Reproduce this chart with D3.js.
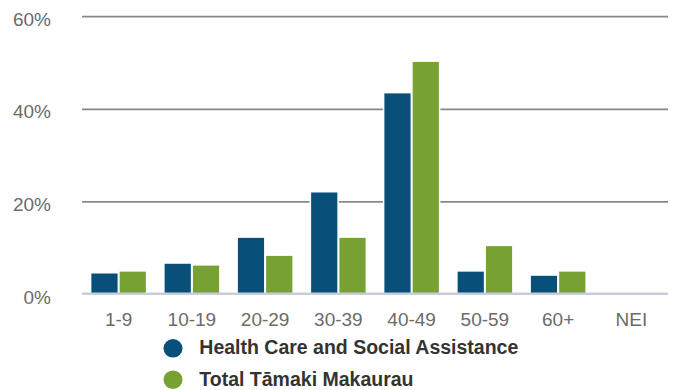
<!DOCTYPE html>
<html>
<head>
<meta charset="utf-8">
<script src="https://cdn.jsdelivr.net/npm/d3@7"></script>
<style>
  html, body { margin: 0; padding: 0; background: #fff; }
  svg { display: block; font-family: "Liberation Sans", Arial, sans-serif; }
</style>
</head>
<body>
<svg id="chart" width="676" height="390"></svg>
<script>
// Age groups on the x axis
const categories = ["1-9", "10-19", "20-29", "30-39", "40-49", "50-59", "60+", "NEI"];
// Share of businesses by age group (%)
const healthCare = [4.7, 6.8, 12.4, 22.2, 43.6, 5.1, 4.2, 0];
const totalTamaki = [5.1, 6.4, 8.5, 12.4, 50.4, 10.6, 5.1, 0];
const seriesNames = ["Health Care and Social Assistance", "Total Tāmaki Makaurau"];
const yTicks = [0, 20, 40, 60];

const colors = ["#08507a", "#78a133"];

const svg = d3.select("#chart");
const plotLeft = 82, plotRight = 668, plotTop = 16.7, plotBottom = 294.5;

const y = d3.scaleLinear().domain([0, 60]).range([plotBottom, plotTop]);
const x0 = d3.scaleBand().domain(categories).range([plotLeft, plotRight])
  .paddingInner(0.22).paddingOuter(0.11);
const x1 = d3.scaleBand().domain([0, 1]).range([0, x0.bandwidth()]).padding(0.02);

// gridlines
svg.append("g").selectAll("line")
  .data(yTicks.filter(d => d > 0))
  .join("line")
  .attr("x1", plotLeft).attr("x2", plotRight)
  .attr("y1", d => y(d)).attr("y2", d => y(d))
  .attr("stroke", "#888888").attr("stroke-width", 1.8);

// y tick labels
svg.append("g").selectAll("text")
  .data(yTicks)
  .join("text")
  .attr("x", 51).attr("y", d => y(d) + 4)
  .attr("text-anchor", "end")
  .attr("dominant-baseline", "middle")
  .attr("font-size", 19)
  .attr("fill", "#6b6b6b")
  .text(d => d + "%");

// bars
const rows = categories.map((c, i) => ({ c, vals: [healthCare[i], totalTamaki[i]] }));
const groups = svg.append("g").selectAll("g")
  .data(rows)
  .join("g")
  .attr("transform", d => `translate(${x0(d.c)},0)`);
groups.selectAll("rect")
  .data(d => d.vals.map((v, k) => ({ v, k })))
  .join("rect")
  .attr("x", d => x1(d.k))
  .attr("width", x1.bandwidth())
  .attr("y", d => y(d.v))
  .attr("height", d => y(0) - y(d.v))
  .attr("fill", d => colors[d.k])
  .attr("stroke", "#ffffff")
  .attr("stroke-width", d => d.v > 0 ? 1.5 : 0);

// baseline
svg.append("line")
  .attr("x1", plotLeft).attr("x2", plotRight)
  .attr("y1", y(0) - 0.7).attr("y2", y(0) - 0.7)
  .attr("stroke", "#c6cedb").attr("stroke-width", 2.5);

// x labels
svg.append("g").selectAll("text")
  .data(categories)
  .join("text")
  .attr("x", d => x0(d) + x0.bandwidth() / 2).attr("y", 321)
  .attr("text-anchor", "middle")
  .attr("dominant-baseline", "middle")
  .attr("font-size", 19)
  .attr("fill", "#6b6b6b")
  .text(d => d);

// legend
const legend = svg.append("g").selectAll("g")
  .data(seriesNames)
  .join("g")
  .attr("transform", (d, i) => `translate(173,${348.3 + i * 31.4})`);
legend.append("ellipse")
  .attr("rx", 9.5).attr("ry", 9.3)
  .attr("fill", (d, i) => colors[i]);
legend.append("text")
  .attr("x", 26.3).attr("y", 1)
  .attr("dominant-baseline", "middle")
  .attr("font-size", 19.5)
  .attr("font-weight", "bold")
  .attr("fill", "#333333")
  .text(d => d);
</script>
</body>
</html>
